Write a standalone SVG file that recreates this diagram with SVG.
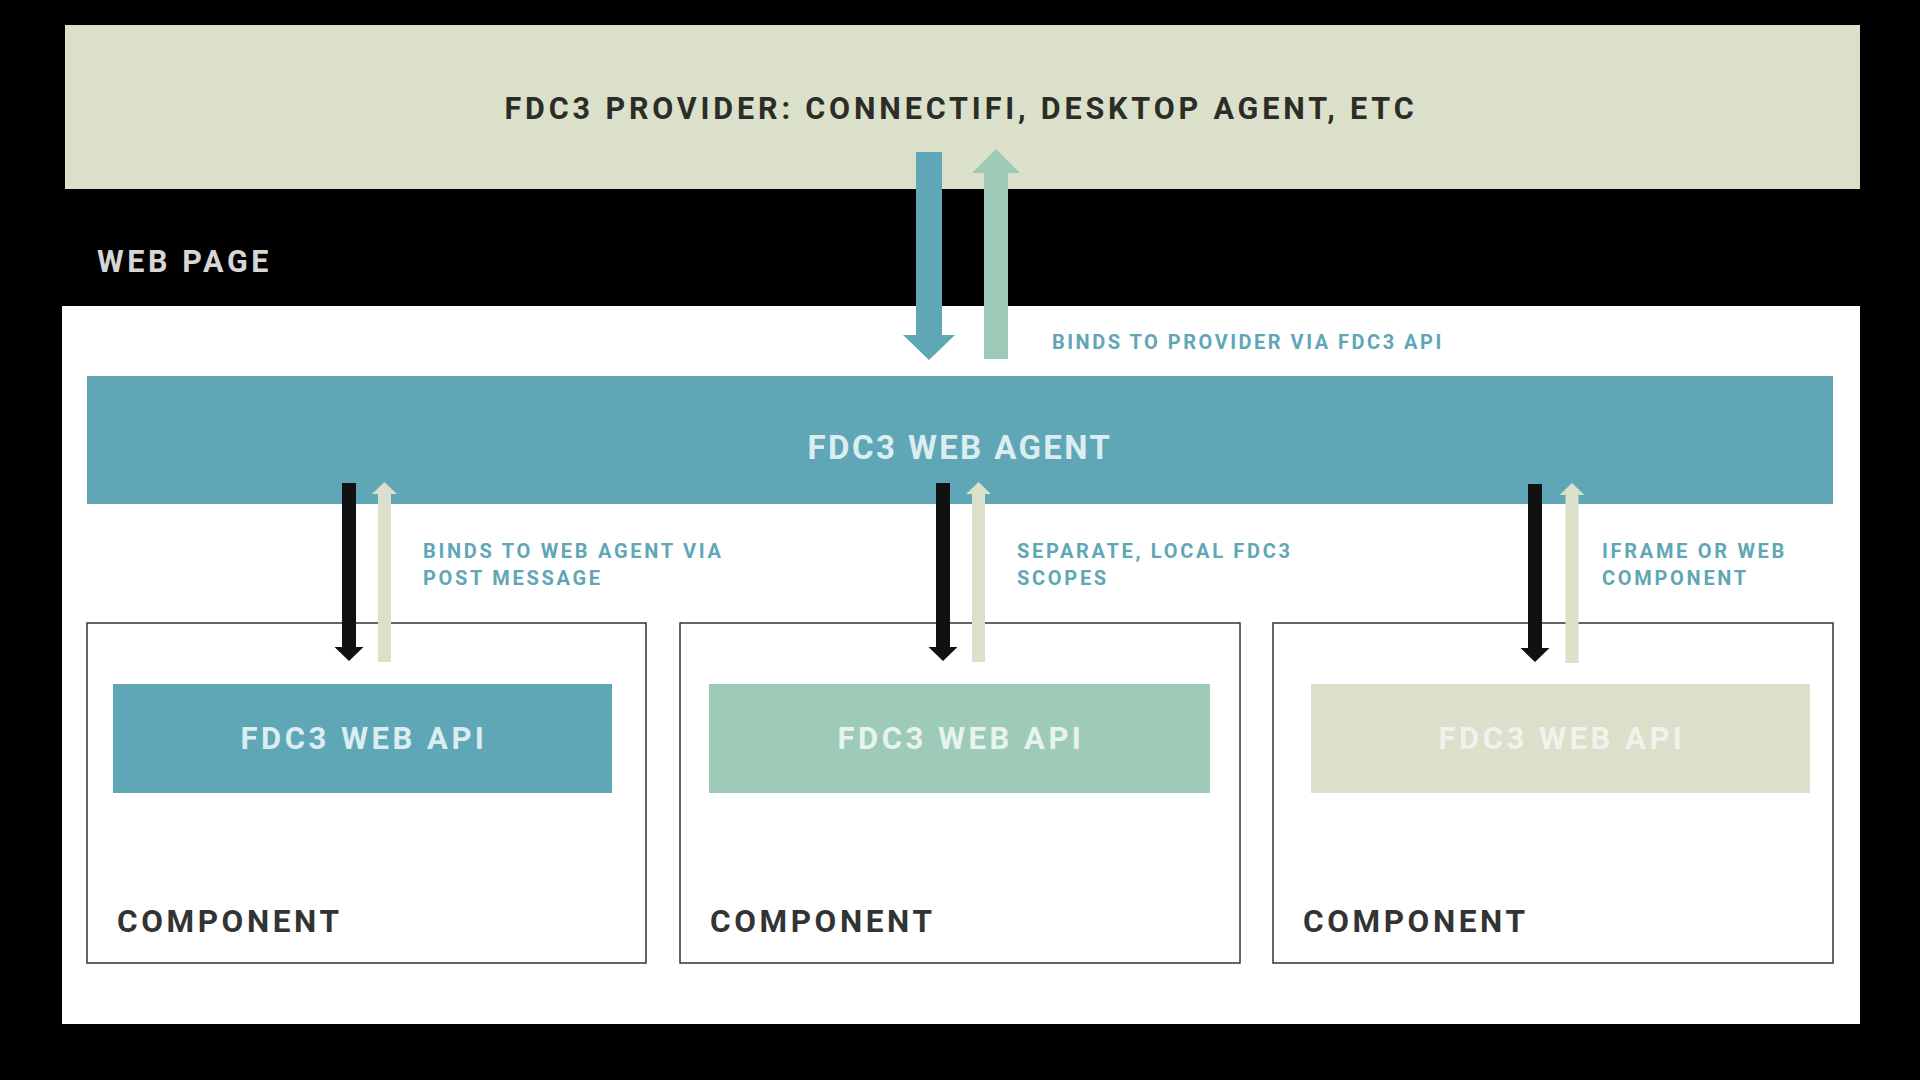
<svg xmlns="http://www.w3.org/2000/svg" xmlns:xlink="http://www.w3.org/1999/xlink" width="1920" height="1080" viewBox="0 0 1920 1080">
  <style>
    text { font-family: Roboto, "Liberation Sans", sans-serif; font-weight: 700; }
    .title { font-size: 30.5px; letter-spacing: 3.85px; }
    .dark { fill: #2b2d26; }
    .page { fill: #d6d6d6; font-size: 30.5px; letter-spacing: 3.6px; }
    .agent { fill: #dcedf1; font-size: 33px; letter-spacing: 2.4px; }
    .api { font-size: 31px; letter-spacing: 3.5px; }
    .comp { fill: #333333; font-size: 31.5px; letter-spacing: 3.6px; }
    .note { fill: #5fa7b6; font-size: 20px; letter-spacing: 2.7px; }
    .note-top { fill: #5fa7b6; font-size: 20px; letter-spacing: 2.5px; }
    .box { fill: #ffffff; stroke: #333333; stroke-width: 1.5; }
    .teal { fill: #5fa7b6; }
    .mint { fill: #9dcbb8; }
    .sage { fill: #dbe0ca; }
    .ink { fill: #111111; }
  </style>
  <defs>
    <!-- small connector arrows, origin at shaft centre / top of the arrow -->
    <polygon id="down-s" points="-7,0 7,0 7,164 14.5,164 0,178 -14.5,164 -7,164"/>
    <polygon id="up-s" points="0,0 12.5,12 6.5,12 6.5,180 -6.5,180 -6.5,12 -12.5,12"/>
  </defs>

  <rect width="1920" height="1080" fill="#000000"/>

  <!-- provider band -->
  <g id="provider">
    <rect x="65" y="25" width="1795" height="164" class="sage"/>
    <text x="961" y="119" text-anchor="middle" class="title dark">FDC3 PROVIDER: CONNECTIFI, DESKTOP AGENT, ETC</text>
  </g>

  <!-- web page area -->
  <g id="web-page">
    <text x="97" y="272" class="page">WEB PAGE</text>
    <rect x="62" y="306" width="1798" height="718" fill="#ffffff"/>
  </g>

  <g id="web-agent">
    <rect x="87" y="376" width="1746" height="128" class="teal"/>
    <text x="960" y="459" text-anchor="middle" class="agent">FDC3 WEB AGENT</text>
  </g>

  <g id="component-1">
    <rect x="87" y="623" width="559" height="340" class="box"/>
    <rect x="113" y="684" width="499" height="109" class="teal"/>
    <text x="364" y="749" text-anchor="middle" class="api" fill="#dcedf1">FDC3 WEB API</text>
    <text x="117" y="932" class="comp">COMPONENT</text>
  </g>

  <g id="component-2">
    <rect x="680" y="623" width="560" height="340" class="box"/>
    <rect x="709" y="684" width="501" height="109" class="mint"/>
    <text x="961" y="749" text-anchor="middle" class="api" fill="#e6f3ee">FDC3 WEB API</text>
    <text x="710" y="932" class="comp">COMPONENT</text>
  </g>

  <g id="component-3">
    <rect x="1273" y="623" width="560" height="340" class="box"/>
    <rect x="1311" y="684" width="499" height="109" class="sage"/>
    <text x="1562" y="749" text-anchor="middle" class="api" fill="#f1f3ea">FDC3 WEB API</text>
    <text x="1303" y="932" class="comp">COMPONENT</text>
  </g>

  <!-- connectors -->
  <g id="connectors">
    <polygon class="teal" points="916,152 942,152 942,335 955,335 929,360 903,335 916,335"/>
    <polygon class="mint" points="996,149 1020,173 1008,173 1008,359 984,359 984,173 972,173"/>

    <use xlink:href="#down-s" x="349" y="483" class="ink"/>
    <use xlink:href="#up-s" x="384.5" y="482" class="sage"/>

    <use xlink:href="#down-s" x="943" y="483" class="ink"/>
    <use xlink:href="#up-s" x="978.5" y="482" class="sage"/>

    <use xlink:href="#down-s" x="1535" y="484" class="ink"/>
    <use xlink:href="#up-s" x="1572" y="483" class="sage"/>
  </g>

  <!-- connector notes -->
  <g id="notes">
    <text x="1052" y="349" class="note-top">BINDS TO PROVIDER VIA FDC3 API</text>
    <text x="423" y="558" class="note">BINDS TO WEB AGENT VIA</text>
    <text x="423" y="585" class="note">POST MESSAGE</text>
    <text x="1017" y="558" class="note">SEPARATE, LOCAL FDC3</text>
    <text x="1017" y="585" class="note">SCOPES</text>
    <text x="1602" y="558" class="note">IFRAME OR WEB</text>
    <text x="1602" y="585" class="note">COMPONENT</text>
  </g>
</svg>
